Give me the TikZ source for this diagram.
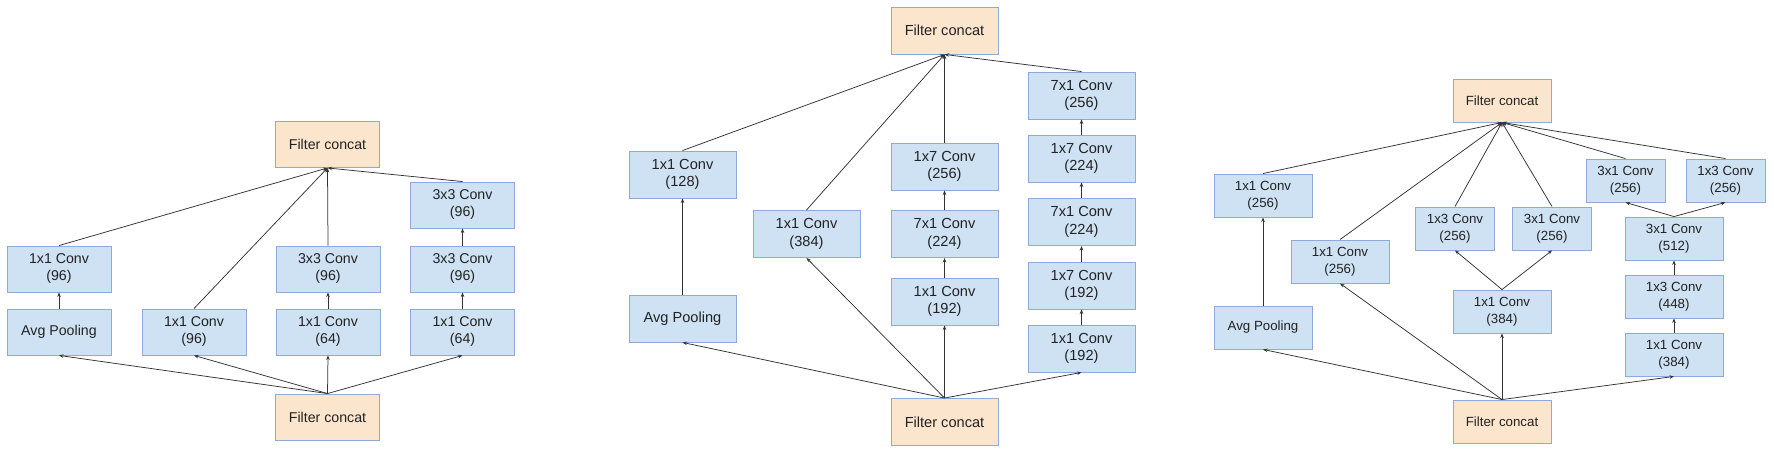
\documentclass[tikz,border=0pt]{standalone}
\usepackage{fontspec}
\setmainfont{Liberation Sans}
\usetikzlibrary{arrows.meta}
\definecolor{boxblue}{HTML}{CFE2F3}
\definecolor{boxline}{HTML}{8EAADC}
\definecolor{boxorange}{HTML}{FCE5CD}
\definecolor{txtcol}{HTML}{222222}
\definecolor{arrcol}{HTML}{333333}
\begin{document}
\begin{tikzpicture}[x=1pt,y=-1pt,
 base/.style={draw=boxline, line width=0.9pt, align=center, inner sep=0pt, text=txtcol},
 conv/.style={base, fill=boxblue},
 cat/.style={base, fill=boxorange},
 pa/.style={minimum width=104pt, minimum height=46pt, font=\fontsize{14.2}{17}\selectfont},
 pb/.style={minimum width=107pt, minimum height=47pt, font=\fontsize{14.6}{17.3}\selectfont},
 pc/.style={minimum width=98pt, minimum height=43pt, font=\fontsize{13.3}{16.5}\selectfont},
 pcs/.style={minimum width=79pt, minimum height=43pt, font=\fontsize{13.3}{16.5}\selectfont},
 link/.style={draw=arrcol, line width=0.75pt, -{Stealth[length=4.5pt,width=3.5pt]}}
]
\useasboundingbox (0,0) rectangle (1774,450);
\fill[white] (0,0) rectangle (1774,450);

% ---------- Panel 1 ----------
\node[cat,pa] (tc1) at (327.5,144.5) {Filter concat};
\node[conv,pa] (a1) at (59,269) {1x1 Conv\\(96)};
\node[conv,pa] (a2) at (59,332) {Avg Pooling};
\node[conv,pa] (b1) at (194,332) {1x1 Conv\\(96)};
\node[conv,pa] (c1) at (328,269) {3x3 Conv\\(96)};
\node[conv,pa] (c2) at (328,332) {1x1 Conv\\(64)};
\node[conv,pa] (d1) at (462.5,205) {3x3 Conv\\(96)};
\node[conv,pa] (d2) at (462.5,269) {3x3 Conv\\(96)};
\node[conv,pa] (d3) at (462.5,332) {1x1 Conv\\(64)};
\node[cat,pa] (bc1) at (327.5,417) {Filter concat};

\draw[link] (bc1.north) -- (a2.south);
\draw[link] (bc1.north) -- (b1.south);
\draw[link] (bc1.north) -- (c2.south);
\draw[link] (bc1.north) -- (d3.south);
\draw[link] (a2.north) -- (a1.south);
\draw[link] (c2.north) -- (c1.south);
\draw[link] (d3.north) -- (d2.south);
\draw[link] (d2.north) -- (d1.south);
\draw[link] (a1.north) -- (tc1.south);
\draw[link] (b1.north) -- (tc1.south);
\draw[link] (c1.north) -- (tc1.south);
\draw[link] (d1.north) -- (tc1.south);

% ---------- Panel 2 ----------
\node[cat,pb] (tc2) at (944.5,30.5) {Filter concat};
\node[conv,pb] (A1) at (682.5,174.5) {1x1 Conv\\(128)};
\node[conv,pb] (A2) at (682.5,318.5) {Avg Pooling};
\node[conv,pb] (B1) at (806.5,234) {1x1 Conv\\(384)};
\node[conv,pb] (C1) at (944.5,166.5) {1x7 Conv\\(256)};
\node[conv,pb] (C2) at (944.5,234) {7x1 Conv\\(224)};
\node[conv,pb] (C3) at (944.5,301.5) {1x1 Conv\\(192)};
\node[conv,pb] (D1) at (1081.5,95.5) {7x1 Conv\\(256)};
\node[conv,pb] (D2) at (1081.5,158.5) {1x7 Conv\\(224)};
\node[conv,pb] (D3) at (1081.5,222) {7x1 Conv\\(224)};
\node[conv,pb] (D4) at (1081.5,285.5) {1x7 Conv\\(192)};
\node[conv,pb] (D5) at (1081.5,348.5) {1x1 Conv\\(192)};
\node[cat,pb] (bc2) at (944.5,422) {Filter concat};

\draw[link] (bc2.north) -- (A2.south);
\draw[link] (bc2.north) -- (B1.south);
\draw[link] (bc2.north) -- (C3.south);
\draw[link] (bc2.north) -- (D5.south);
\draw[link] (A2.north) -- (A1.south);
\draw[link] (C3.north) -- (C2.south);
\draw[link] (C2.north) -- (C1.south);
\draw[link] (D5.north) -- (D4.south);
\draw[link] (D4.north) -- (D3.south);
\draw[link] (D3.north) -- (D2.south);
\draw[link] (D2.north) -- (D1.south);
\draw[link] (A1.north) -- (tc2.south);
\draw[link] (B1.north) -- (tc2.south);
\draw[link] (C1.north) -- (tc2.south);
\draw[link] (D1.north) -- (tc2.south);

% ---------- Panel 3 ----------
\node[cat,pc] (tc3) at (1502,100.5) {Filter concat};
\node[conv,pc] (pA1) at (1263,195.5) {1x1 Conv\\(256)};
\node[conv,pc] (pA2) at (1263,327.5) {Avg Pooling};
\node[conv,pc] (pB1) at (1340,261.5) {1x1 Conv\\(256)};
\node[conv,pc] (pC0) at (1502,311.5) {1x1 Conv\\(384)};
\node[conv,pcs] (pC1) at (1455,228.5) {1x3 Conv\\(256)};
\node[conv,pcs] (pC2) at (1552,228.5) {3x1 Conv\\(256)};
\node[conv,pc] (pD1) at (1674,354.5) {1x1 Conv\\(384)};
\node[conv,pc] (pD2) at (1674,296.5) {1x3 Conv\\(448)};
\node[conv,pc] (pD3) at (1674,238.5) {3x1 Conv\\(512)};
\node[conv,pcs] (pD4) at (1625.5,180.5) {3x1 Conv\\(256)};
\node[conv,pcs] (pD5) at (1725.5,180.5) {1x3 Conv\\(256)};
\node[cat,pc] (bc3) at (1502,421.5) {Filter concat};

\draw[link] (bc3.north) -- (pA2.south);
\draw[link] (bc3.north) -- (pB1.south);
\draw[link] (bc3.north) -- (pC0.south);
\draw[link] (bc3.north) -- (pD1.south);
\draw[link] (pA2.north) -- (pA1.south);
\draw[link] (pC0.north) -- (pC1.south);
\draw[link] (pC0.north) -- (pC2.south);
\draw[link] (pD1.north) -- (pD2.south);
\draw[link] (pD2.north) -- (pD3.south);
\draw[link] (pD3.north) -- (pD4.south);
\draw[link] (pD3.north) -- (pD5.south);
\draw[link] (pA1.north) -- (tc3.south);
\draw[link] (pB1.north) -- (tc3.south);
\draw[link] (pC1.north) -- (tc3.south);
\draw[link] (pC2.north) -- (tc3.south);
\draw[link] (pD4.north) -- (tc3.south);
\draw[link] (pD5.north) -- (tc3.south);
\end{tikzpicture}
\end{document}
